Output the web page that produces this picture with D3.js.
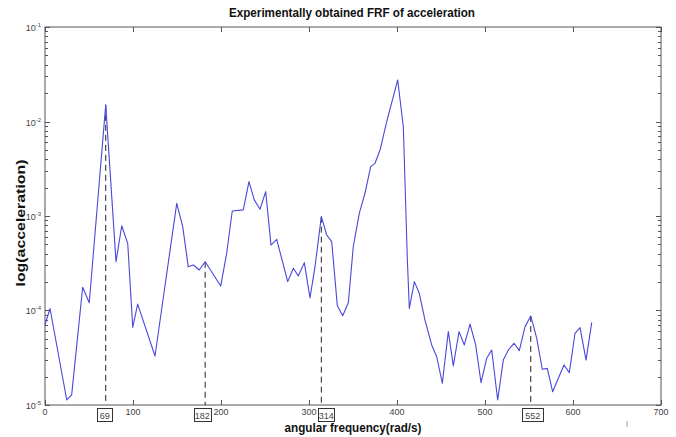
<!DOCTYPE html>
<html><head><meta charset="utf-8">
<script src="https://cdn.jsdelivr.net/npm/d3@7"></script>
<style>body{margin:0;background:#fff}svg{display:block}</style>
</head><body><svg id="c" width="676" height="437"></svg>
<script>
const freq = [0,5.7,24.7,30.3,42.8,50.3,69,80.7,87.2,94.0,99.7,105.3,125,149.7,156.5,162.8,168.5,175.3,182,199.7,206.5,212.8,225.3,231.8,237.8,244.3,250.8,256.8,263.3,275.8,282.2,287.8,294.7,301.1,306.8,314,320.1,325.8,332.2,338.3,344.7,350.3,357.2,363.6,370.1,375.0,380.7,388.3,400.8,407.2,411.7,414,419.7,425.3,431.8,439.4,445.1,451.5,458.3,464.0,470.5,476.5,483,489.4,495.5,501.9,507.6,514.4,520.8,526.5,533,539,545.5,552,558.8,565.1,570.8,576.9,583.3,589.8,595.8,602.3,608,614.8,621.3];
const accel = [7.03e-5,1.05e-4,1.13e-5,1.28e-5,1.76e-4,1.21e-4,1.50e-2,3.28e-4,7.89e-4,5.14e-4,6.64e-5,1.17e-4,3.30e-5,1.36e-3,7.71e-4,2.90e-4,3.03e-4,2.68e-4,3.28e-4,1.82e-4,4.06e-4,1.13e-3,1.16e-3,2.31e-3,1.48e-3,1.18e-3,1.81e-3,4.93e-4,5.66e-4,2.02e-4,2.80e-4,2.32e-4,3.21e-4,1.36e-4,2.90e-4,9.84e-4,6.29e-4,5.35e-4,1.12e-4,8.81e-5,1.21e-4,4.73e-4,1.07e-3,1.74e-3,3.33e-3,3.61e-3,4.99e-3,9.95e-3,2.75e-2,8.81e-3,3.60e-4,1.05e-4,2.02e-4,1.52e-4,7.93e-5,4.32e-5,3.24e-5,1.70e-5,5.97e-5,2.59e-5,5.97e-5,4.32e-5,7.19e-5,4.32e-5,1.72e-5,3.12e-5,3.82e-5,1.13e-5,2.99e-5,3.82e-5,4.50e-5,3.76e-5,6.75e-5,8.75e-5,5.08e-5,2.39e-5,2.44e-5,1.38e-5,1.92e-5,2.65e-5,2.20e-5,5.74e-5,6.58e-5,2.99e-5,7.50e-5];
const markerFreq = [69,182,314,552];
const markerVal = [1.50e-2,3.28e-4,9.84e-4,8.75e-5];
const xTicks = [0,100,200,300,400,500,600,700];
const yExps = [-5,-4,-3,-2,-1];
const titleText = "Experimentally obtained FRF of acceleration";
const xLabel = "angular frequency(rad/s)";
const yLabel = "log(acceleration)";

// label-box styling (pixel shift from marker line, box width)
const boxShift = [-1,-3,5,2];
const boxWidth = [15,17,16,21];

const svg = d3.select("#c");
const L=45,R=661,T=27,B=405;
const x = d3.scaleLinear().domain([0,700]).range([L,R]);
const y = d3.scaleLog().domain([1e-5,1e-1]).range([B,T]);
const axisCol = "#555", txtCol = "#444";
const font = "Liberation Sans, Arial, sans-serif";

svg.append("rect").attr("x",L).attr("y",T).attr("width",R-L).attr("height",B-T)
  .attr("fill","none").attr("stroke",axisCol).attr("stroke-width",1);

const g = svg.append("g");
xTicks.forEach(t=>{
  const px = Math.round(x(t))+0.5;
  g.append("line").attr("x1",px).attr("x2",px).attr("y1",B).attr("y2",B-5).attr("stroke",axisCol);
  g.append("line").attr("x1",px).attr("x2",px).attr("y1",T).attr("y2",T+5).attr("stroke",axisCol);
  g.append("text").attr("x",x(t)).attr("y",415).attr("text-anchor","middle")
    .attr("font-family",font).attr("font-size",9).attr("fill",txtCol).text(t);
});
yExps.forEach(e=>{
  const base = Math.pow(10,e);
  const py = Math.round(y(base))+0.5;
  g.append("line").attr("x1",L).attr("x2",L+5).attr("y1",py).attr("y2",py).attr("stroke",axisCol);
  g.append("line").attr("x1",R).attr("x2",R-5).attr("y1",py).attr("y2",py).attr("stroke",axisCol);
  const t = g.append("text").attr("x",41).attr("y",py+3).attr("text-anchor","end")
    .attr("font-family",font).attr("font-size",9).attr("fill",txtCol);
  t.append("tspan").text("10");
  t.append("tspan").attr("dy",-4).attr("font-size",6).text(e);
  if(e<-1){
    for(let k=2;k<10;k++){
      const my = Math.round(y(base*k))+0.5;
      g.append("line").attr("x1",L).attr("x2",L+3).attr("y1",my).attr("y2",my).attr("stroke",axisCol);
      g.append("line").attr("x1",R).attr("x2",R-3).attr("y1",my).attr("y2",my).attr("stroke",axisCol);
    }
  }
});

markerFreq.forEach((f,i)=>{
  svg.append("line").attr("x1",x(f)).attr("x2",x(f)).attr("y1",y(markerVal[i])).attr("y2",B)
    .attr("stroke","#222").attr("stroke-width",1).attr("stroke-dasharray","6,4");
  const cx = x(f)+boxShift[i], w = boxWidth[i];
  svg.append("rect").attr("x",Math.round(cx-w/2)+0.5).attr("y",408.5).attr("width",w).attr("height",13)
    .attr("fill","#fff").attr("stroke","#333").attr("stroke-width",1);
  svg.append("text").attr("x",cx).attr("y",418.5).attr("text-anchor","middle")
    .attr("font-family",font).attr("font-size",9).attr("fill",txtCol).text(f);
});

const line = d3.line().x((d,i)=>x(freq[i])).y((d,i)=>y(accel[i]));
svg.append("path").datum(accel).attr("d",line).attr("fill","none")
  .attr("stroke","#4848dc").attr("stroke-width",1.1).attr("stroke-linejoin","round");

svg.append("text").attr("x",352).attr("y",17).attr("text-anchor","middle")
  .attr("font-family",font).attr("font-weight","bold").attr("font-size",12)
  .attr("fill","#111").attr("textLength",246).attr("lengthAdjust","spacingAndGlyphs").text(titleText);
svg.append("text").attr("x",353).attr("y",432).attr("text-anchor","middle")
  .attr("font-family",font).attr("font-weight","bold").attr("font-size",12)
  .attr("fill","#111").attr("textLength",137).attr("lengthAdjust","spacingAndGlyphs").text(xLabel);
svg.append("text").attr("transform","translate(25,223) rotate(-90)").attr("text-anchor","middle")
  .attr("font-family",font).attr("font-weight","bold").attr("font-size",12)
  .attr("fill","#111").attr("textLength",127).attr("lengthAdjust","spacingAndGlyphs").text(yLabel);
svg.append("text").attr("x",627).attr("y",427).attr("text-anchor","middle")
  .attr("font-family",font).attr("font-size",9).attr("fill","#999").text("I");
</script></body></html>
